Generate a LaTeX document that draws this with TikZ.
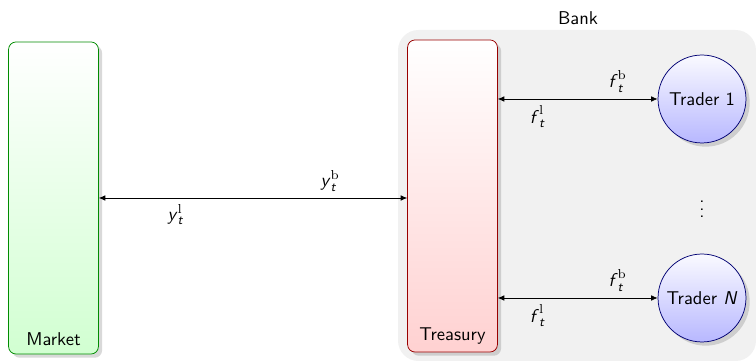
\documentclass[tikz,border=0pt]{standalone}
\usepackage{amsmath}
\usetikzlibrary{arrows.meta,shadows}
\newcommand{\sfit}[1]{\textsf{\textit{#1}}}
\newcommand{\flowvar}[2]{$\sfit{#1}_{\sfit{t}}^{\mathrm{#2}}$}
\begin{document}
\begin{tikzpicture}[x=0.54pt,y=0.54pt,every node/.style={font=\sffamily},
  >={Latex[length=3.5pt,width=3pt]},
  desk/.style={rectangle,rounded corners=4pt,minimum width=48.5pt,minimum height=168.5pt,drop shadow={opacity=0.3,shadow xshift=2pt,shadow yshift=-2pt}},
  trader/.style={circle,draw=blue!45!black,top color=blue!2,bottom color=blue!28,minimum size=47.5pt,inner sep=0pt,drop shadow={opacity=0.3,shadow xshift=2pt,shadow yshift=-2pt}},
  link/.style={<->}]
\useasboundingbox (0,0) rectangle (756,364);
% bank background
\fill[gray!11,rounded corners=11pt] (398,3) rectangle (756,334);
\node (bank) at (578,346) {Bank};
% market and treasury
\node[desk,draw=green!55!black,top color=white,bottom color=green!18,label={[anchor=south,yshift=1pt]south:Market}] (market) at (53.5,166) {};
\node[desk,draw=red!60!black,top color=white,bottom color=red!18,label={[anchor=south,yshift=1pt]south:Treasury}] (treasury) at (452.5,168) {};
% traders
\node[trader] (trader1) at (702,265) {Trader 1};
\node[trader] (traderN) at (702,66) {Trader \sfit{N}};
\node (dots) at (702,160) {$\vdots$};
% flows
\draw[link] (market.east) -- (market.east -| treasury.west) node[pos=0.75,above] {\flowvar{y}{b}} node[pos=0.25,below] {\flowvar{y}{l}};
\draw[link] (treasury.east |- trader1) -- (trader1) node[pos=0.75,above] {\flowvar{f}{b}} node[pos=0.25,below] {\flowvar{f}{l}};
\draw[link] (treasury.east |- traderN) -- (traderN) node[pos=0.75,above] {\flowvar{f}{b}} node[pos=0.25,below] {\flowvar{f}{l}};
\end{tikzpicture}
\end{document}
